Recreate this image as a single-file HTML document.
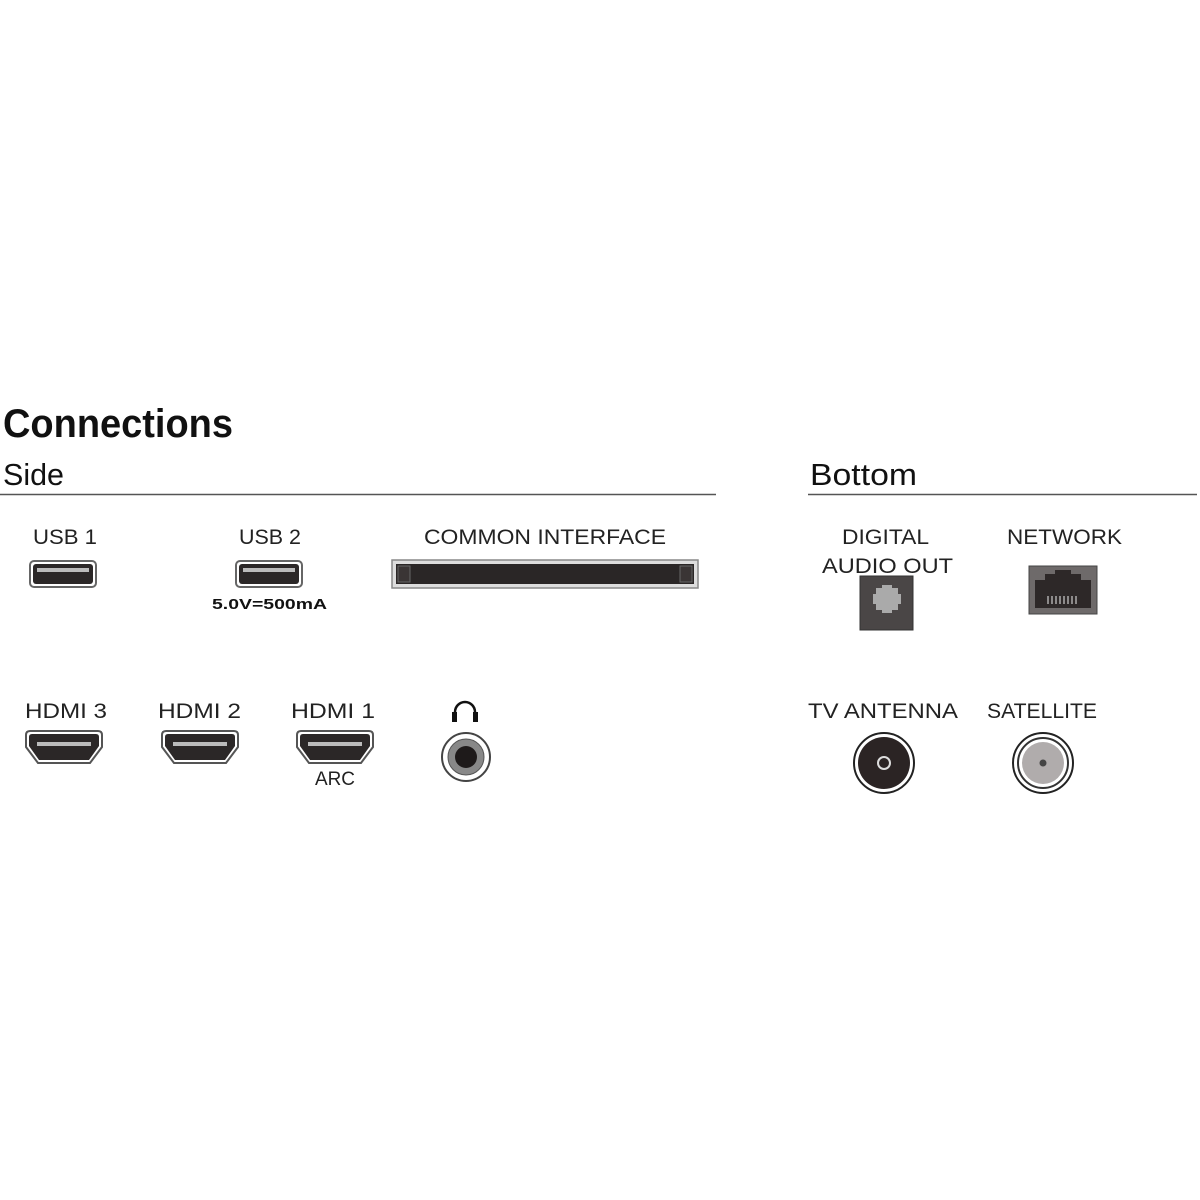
<!DOCTYPE html>
<html><head><meta charset="utf-8"><style>html,body{margin:0;padding:0;background:#fff}svg{display:block}</style></head>
<body>
<svg width="1200" height="1200" viewBox="0 0 1200 1200" xmlns="http://www.w3.org/2000/svg" font-family="Liberation Sans, sans-serif">
<rect width="1200" height="1200" fill="#fff"/>
<text x="3" y="437" font-size="40" font-weight="bold" fill="#111" textLength="230" lengthAdjust="spacingAndGlyphs">Connections</text>
<text x="3" y="485" font-size="31" fill="#111" textLength="61" lengthAdjust="spacingAndGlyphs">Side</text>
<text x="810" y="485" font-size="31" fill="#111" textLength="107" lengthAdjust="spacingAndGlyphs">Bottom</text>
<line x1="0" y1="494.5" x2="716" y2="494.5" stroke="#555" stroke-width="1.5"/>
<line x1="808" y1="494.5" x2="1197" y2="494.5" stroke="#555" stroke-width="1.5"/>

<g font-size="21" fill="#222">
<text x="33" y="544" textLength="64" lengthAdjust="spacingAndGlyphs">USB  1</text>
<text x="239" y="544" textLength="62" lengthAdjust="spacingAndGlyphs">USB  2</text>
<text x="424" y="544" textLength="242" lengthAdjust="spacingAndGlyphs">COMMON  INTERFACE</text>
<text x="842" y="544" textLength="87" lengthAdjust="spacingAndGlyphs">DIGITAL</text>
<text x="822" y="573" textLength="131" lengthAdjust="spacingAndGlyphs">AUDIO OUT</text>
<text x="1007" y="544" textLength="115" lengthAdjust="spacingAndGlyphs">NETWORK</text>
<text x="25" y="718" textLength="82" lengthAdjust="spacingAndGlyphs">HDMI  3</text>
<text x="158" y="718" textLength="83" lengthAdjust="spacingAndGlyphs">HDMI  2</text>
<text x="291" y="718" textLength="84" lengthAdjust="spacingAndGlyphs">HDMI  1</text>
<text x="315" y="785" font-size="19" textLength="40" lengthAdjust="spacingAndGlyphs">ARC</text>
<text x="808" y="718" textLength="150" lengthAdjust="spacingAndGlyphs">TV ANTENNA</text>
<text x="987" y="718" textLength="110" lengthAdjust="spacingAndGlyphs">SATELLITE</text>
</g>
<text x="212" y="609" font-size="15" font-weight="bold" fill="#111" textLength="115" lengthAdjust="spacingAndGlyphs">5.0V=500mA</text>

<!-- USB ports -->
<g>
<rect x="30" y="561" width="66" height="26" rx="4" fill="#fff" stroke="#666" stroke-width="2"/>
<rect x="33" y="564" width="60" height="20" rx="3" fill="#2b2727"/>
<rect x="37" y="568" width="52" height="4" fill="#bbb"/>
<rect x="236" y="561" width="66" height="26" rx="4" fill="#fff" stroke="#666" stroke-width="2"/>
<rect x="239" y="564" width="60" height="20" rx="3" fill="#2b2727"/>
<rect x="243" y="568" width="52" height="4" fill="#bbb"/>
</g>
<!-- CI slot -->
<rect x="392" y="560" width="306" height="28" fill="#ddd" stroke="#888" stroke-width="1.5"/>
<rect x="396" y="564" width="298" height="20" fill="#2a2626"/>
<rect x="398" y="566" width="12" height="16" fill="#3a3535" stroke="#666"/>
<rect x="680" y="566" width="12" height="16" fill="#3a3535" stroke="#666"/>

<!-- optical -->
<rect x="860" y="576" width="53" height="54" fill="#4a4646" stroke="#333"/>
<path d="M876 588 h6 v-3 h10 v3 h6 v6 h3 v10 h-3 v6 h-6 v3 h-10 v-3 h-6 v-6 h-3 v-10 h3 z" fill="#aaa"/>
<!-- RJ45 -->
<rect x="1029" y="566" width="68" height="48" fill="#6e6a6a" stroke="#444"/>
<path d="M1035 580 h10 v-6 h10 v-4 h16 v4 h10 v6 h10 v28 h-56 z" fill="#2d2828"/>
<g stroke="#ccc" stroke-width="1.2">
<line x1="1048" y1="596" x2="1048" y2="604"/><line x1="1052" y1="596" x2="1052" y2="604"/><line x1="1056" y1="596" x2="1056" y2="604"/><line x1="1060" y1="596" x2="1060" y2="604"/><line x1="1064" y1="596" x2="1064" y2="604"/><line x1="1068" y1="596" x2="1068" y2="604"/><line x1="1072" y1="596" x2="1072" y2="604"/><line x1="1076" y1="596" x2="1076" y2="604"/>
</g>

<!-- HDMI -->
<g id="h">
<path d="M26 735 q0-4 4-4 h68 q4 0 4 4 v12 l-12 16 h-52 l-12-16 z" fill="#fff" stroke="#555" stroke-width="2"/>
<path d="M29 737 q0-3 3-3 h64 q3 0 3 3 v9 l-10 14 h-50 l-10-14 z" fill="#2b2727"/>
<rect x="37" y="742" width="54" height="4" fill="#bbb"/>
</g>
<use href="#h" x="136"/>
<use href="#h" x="271"/>

<!-- headphone -->
<path d="M455 720 v-8 a10 10 0 0 1 20 0 v8" fill="none" stroke="#111" stroke-width="2.5"/>
<rect x="452" y="712" width="5" height="10" fill="#111"/>
<rect x="473" y="712" width="5" height="10" fill="#111"/>
<circle cx="466" cy="757" r="24" fill="#fff" stroke="#444" stroke-width="2"/>
<circle cx="466" cy="757" r="18" fill="#888" stroke="#555"/>
<circle cx="466" cy="757" r="11" fill="#1e1a1a"/>

<!-- antenna -->
<circle cx="884" cy="763" r="30" fill="#fff" stroke="#222" stroke-width="2"/>
<circle cx="884" cy="763" r="26" fill="#2b2424"/>
<circle cx="884" cy="763" r="6" fill="none" stroke="#ddd" stroke-width="2"/>
<!-- satellite -->
<circle cx="1043" cy="763" r="30" fill="#fff" stroke="#222" stroke-width="2"/>
<circle cx="1043" cy="763" r="25" fill="#fff" stroke="#333" stroke-width="2"/>
<circle cx="1043" cy="763" r="21" fill="#b0acac"/>
<circle cx="1043" cy="763" r="3.5" fill="#444"/>
</svg>
</body></html>
